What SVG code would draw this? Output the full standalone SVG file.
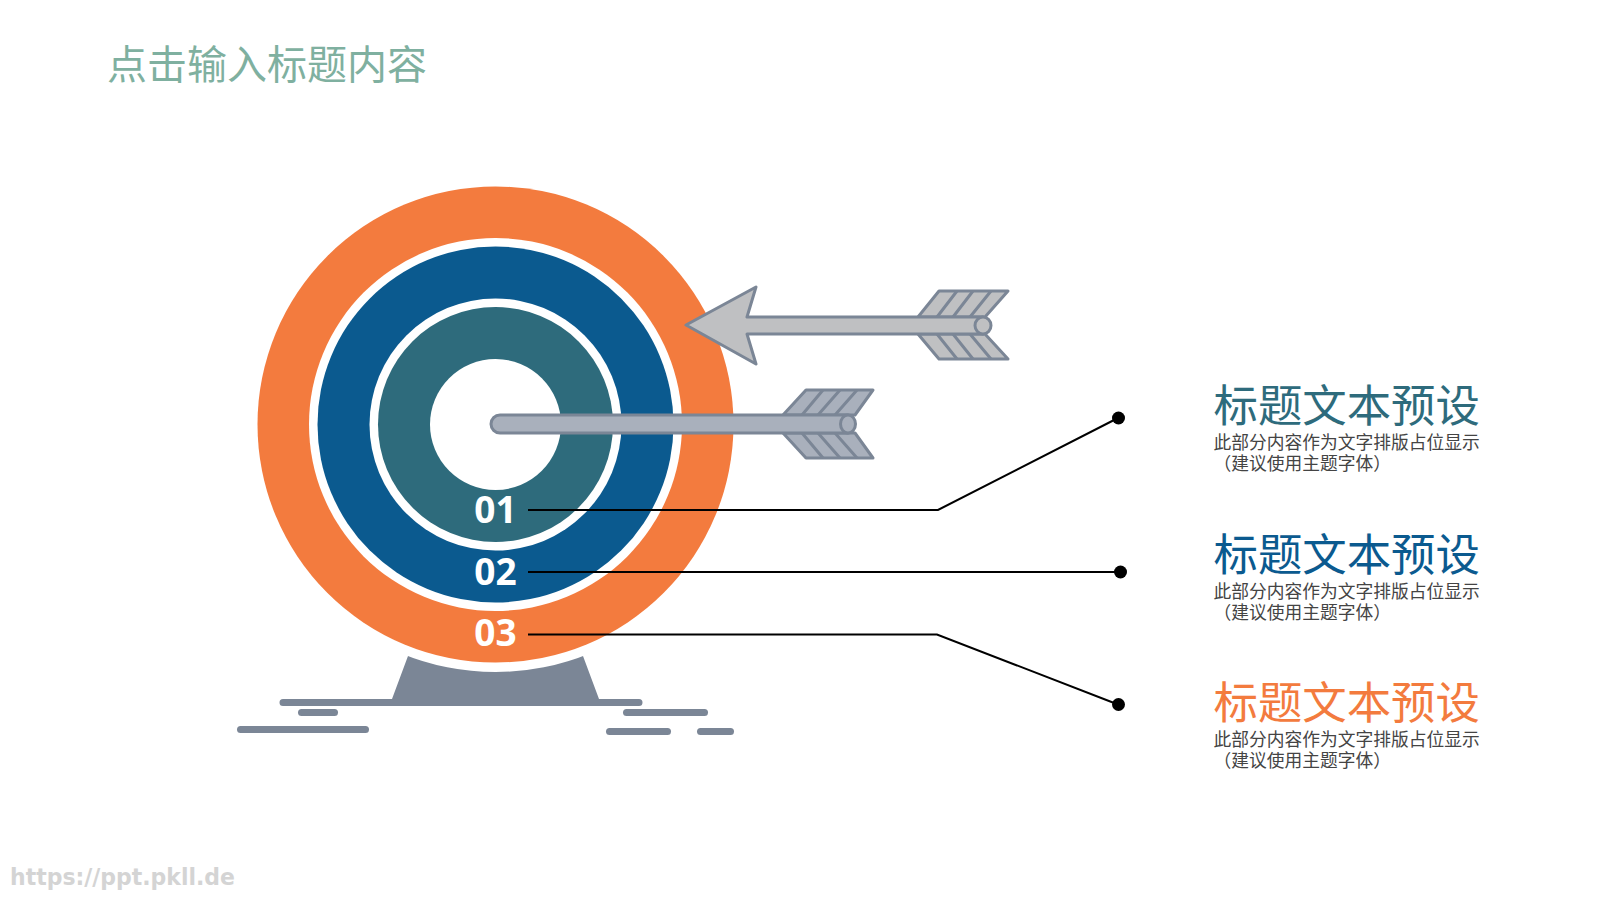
<svg xmlns="http://www.w3.org/2000/svg" width="1600" height="900" viewBox="0 0 1600 900">
<style>
.num{font-family:"Open Sans","Liberation Sans",sans-serif;font-weight:700;font-size:37px;fill:#fff;text-anchor:middle}
.h{font-family:"Noto Sans CJK SC",sans-serif;font-size:44.400px}
.s{font-family:"Noto Sans CJK SC",sans-serif;font-size:17.750px;fill:#444}
.ln{fill:none;stroke:#000;stroke-width:2}
.bar{fill:#7b8696}
.a1{fill:#bfc0c2;stroke:#7b8696;stroke-width:3;stroke-linejoin:round}
.a2{fill:#a9b0bc;stroke:#7b8696;stroke-width:3;stroke-linejoin:round}
.ht{fill:none;stroke:#7b8696;stroke-width:3}
</style>
<rect width="1600" height="900" fill="#fff"/>
<text x="107" y="79" font-family="'Noto Sans CJK SC',sans-serif" font-size="40" fill="#7fb0a0">点击输入标题内容</text>
<g id="base">
<path class="bar" d="M408 656 L583 656 L599 699 L639 699 A3.5 3.5 0 0 1 639 706 L283 706 A3.5 3.5 0 0 1 283 699 L392 699 Z"/>
<rect class="bar" x="298" y="709" width="40" height="7" rx="3.500"/>
<rect class="bar" x="237" y="726" width="132" height="7" rx="3.500"/>
<rect class="bar" x="623" y="709" width="85" height="7" rx="3.500"/>
<rect class="bar" x="606" y="728" width="65" height="7" rx="3.500"/>
<rect class="bar" x="697" y="728" width="37" height="7" rx="3.500"/>
</g>
<g id="target">
<circle cx="495.500" cy="424.500" r="247.500" fill="#fff"/>
<circle cx="495.500" cy="424.500" r="238" fill="#f37b3e"/>
<circle cx="495.500" cy="424.500" r="186.500" fill="#fff"/>
<circle cx="495.500" cy="424.500" r="178" fill="#0b5a8f"/>
<circle cx="495.500" cy="424.500" r="126" fill="#fff"/>
<circle cx="495.500" cy="424.500" r="117.500" fill="#2e6b7c"/>
<circle cx="495.500" cy="424.500" r="65.500" fill="#fff"/>
</g>
<g id="arrow-upper">
<path class="a1" d="M918 317 L939 291 L1008 291 L985 317 Z M918 334 L939 359 L1008 359 L985 334 Z"/>
<path class="ht" d="M957 291 L937 317 M973 291 L953 317 M991 291 L970 317 M957 359 L937 334 M973 359 L953 334 M991 359 L970 334"/>
<path class="a1" d="M686 325 L756 287 L747 317 L983 317 L983 334 L747 334 L756 364 Z"/>
<ellipse class="a1" cx="983" cy="325.500" rx="8" ry="8.500"/>
</g>
<g id="arrow-center">
<path class="a2" d="M783 415 L806 390 L873 390 L855 415 Z M783 433 L806 458 L873 458 L855 433 Z"/>
<path class="ht" d="M823 390 L802 415 M840 390 L818 415 M857 390 L835 415 M823 458 L802 433 M840 458 L818 433 M857 458 L835 433"/>
<path class="a2" d="M500 415 L848 415 L848 433 L500 433 A9 9 0 0 1 500 415 Z"/>
<ellipse class="a2" cx="848" cy="424" rx="7.500" ry="9"/>
</g>
<g id="connectors">
<path class="ln" d="M528 510 L938 510 L1118 418"/>
<path class="ln" d="M528 572 L1120 572"/>
<path class="ln" d="M528 634.500 L937 634.500 L1118 704.500"/>
<circle cx="1118.500" cy="418" r="6.500"/>
<circle cx="1120.500" cy="572" r="6.500"/>
<circle cx="1118.500" cy="704.500" r="6.500"/>
</g>
<g id="num-01"><text class="num" x="495.500" y="523">01</text></g>
<g id="num-02"><text class="num" x="495.500" y="585">02</text></g>
<g id="num-03"><text class="num" x="495.500" y="646">03</text></g>
<g id="item-1">
<text class="h" x="1213.500" y="422" fill="#2e6b7c">标题文本预设</text>
<text class="s" x="1213.500" y="449">此部分内容作为文字排版占位显示</text>
<text class="s" x="1213.500" y="470">（建议使用主题字体）</text>
</g>
<g id="item-2">
<text class="h" x="1213.500" y="571" fill="#0b5a8f">标题文本预设</text>
<text class="s" x="1213.500" y="598">此部分内容作为文字排版占位显示</text>
<text class="s" x="1213.500" y="619">（建议使用主题字体）</text>
</g>
<g id="item-3">
<text class="h" x="1213.500" y="719" fill="#f37b3e">标题文本预设</text>
<text class="s" x="1213.500" y="746">此部分内容作为文字排版占位显示</text>
<text class="s" x="1213.500" y="767">（建议使用主题字体）</text>
</g>
<text x="10" y="885" font-family="'DejaVu Sans',sans-serif" font-weight="700" font-size="23" fill="#d4d4d4" textLength="225" lengthAdjust="spacingAndGlyphs">https://ppt.pkll.de</text>
</svg>
